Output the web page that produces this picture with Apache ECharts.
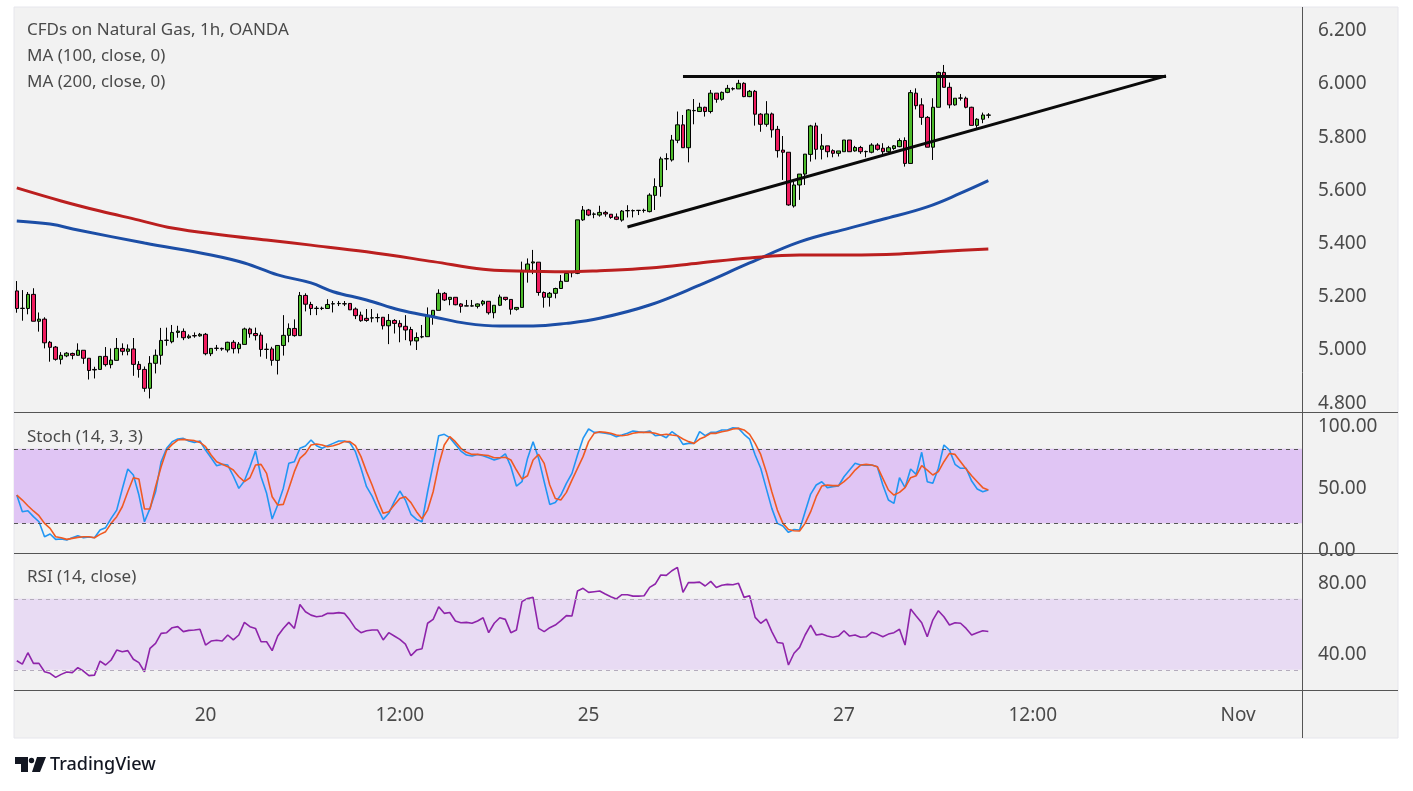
<!DOCTYPE html>
<html>
<head>
<meta charset="UTF-8">
<title>CFDs on Natural Gas, 1h</title>
<script src="https://cdn.jsdelivr.net/npm/echarts@6/dist/echarts.min.js"></script>
<style>
    html, body { margin: 0; padding: 0; background: #fff; }
    #chart { width: 1413px; height: 791px; }
</style>
</head>
<body>
<div id="chart"></div>
<script>
    // x slots (candles + empty space on the right)
    var slotCount = 232;
    var xLabelIdx = [34, 69, 103, 149, 183, 220];
    var xLabelText = ['20', '12:00', '25', '27', '12:00', 'Nov'];

    // candles
    var opens = [5.211,5.145,5.145,5.198,5.097,5.105,5.018,5.000,4.954,4.967,4.976,4.969,4.988,4.958,4.916,4.916,4.965,4.934,4.950,4.995,
        4.984,4.993,4.935,4.916,4.845,4.939,4.969,5.025,5.020,5.055,5.059,5.035,5.043,5.042,5.048,4.975,4.995,4.995,4.989,5.018,
        4.994,5.010,5.068,5.051,5.045,4.991,4.993,4.950,5.006,5.044,5.070,5.043,5.194,5.160,5.145,5.146,5.145,5.162,5.163,5.163,
        5.164,5.143,5.120,5.108,5.109,5.110,5.112,5.080,5.100,5.089,5.078,5.066,5.023,5.038,5.039,5.118,5.138,5.202,5.179,5.187,
        5.162,5.154,5.154,5.153,5.162,5.172,5.129,5.157,5.187,5.179,5.142,5.149,5.288,5.316,5.319,5.205,5.187,5.202,5.220,5.247,
        5.279,5.277,5.478,5.515,5.499,5.496,5.506,5.499,5.489,5.477,5.512,5.512,5.513,5.513,5.509,5.570,5.603,5.707,5.703,5.777,
        5.835,5.749,5.888,5.885,5.901,5.885,5.954,5.931,5.957,5.970,5.970,5.991,5.941,5.961,5.875,5.837,5.876,5.818,5.740,5.732,
        5.530,5.609,5.650,5.724,5.831,5.743,5.756,5.738,5.728,5.734,5.778,5.737,5.750,5.734,5.732,5.759,5.747,5.734,5.746,5.753,
        5.776,5.690,5.954,5.910,5.863,5.751,5.901,6.032,5.976,5.910,5.935,5.935,5.901,5.833,5.856,5.871];
    var closes = [5.145,5.146,5.198,5.097,5.105,5.016,4.999,4.954,4.969,4.977,4.969,4.988,4.958,4.912,4.914,4.965,4.934,4.951,4.995,4.984,
        4.993,4.935,4.916,4.845,4.939,4.969,5.025,5.026,5.055,5.060,5.035,5.041,5.042,5.048,4.975,4.995,4.996,4.993,5.018,4.994,
        5.011,5.068,5.050,5.043,4.991,4.992,4.950,5.006,5.044,5.070,5.043,5.194,5.161,5.145,5.146,5.145,5.160,5.163,5.164,5.162,
        5.140,5.118,5.099,5.100,5.110,5.111,5.080,5.100,5.089,5.076,5.064,5.023,5.036,5.039,5.118,5.138,5.202,5.177,5.187,5.159,
        5.153,5.155,5.155,5.162,5.172,5.129,5.157,5.188,5.179,5.142,5.149,5.288,5.312,5.320,5.205,5.187,5.202,5.220,5.247,5.277,
        5.280,5.478,5.515,5.496,5.500,5.506,5.500,5.487,5.480,5.511,5.513,5.513,5.514,5.514,5.571,5.603,5.707,5.708,5.778,5.835,
        5.749,5.891,5.889,5.901,5.885,5.954,5.931,5.957,5.972,5.971,5.991,5.941,5.961,5.875,5.837,5.876,5.816,5.738,5.732,5.534,
        5.609,5.650,5.725,5.831,5.743,5.756,5.734,5.728,5.737,5.778,5.734,5.750,5.734,5.735,5.759,5.743,5.734,5.749,5.756,5.776,
        5.690,5.956,5.907,5.863,5.751,5.901,6.032,5.976,5.910,5.935,5.936,5.901,5.833,5.856,5.872,5.872];
    var highs = [5.248,5.214,5.207,5.221,5.130,5.112,5.023,5.004,4.981,4.981,4.979,5.014,4.988,4.958,4.926,4.965,5.000,4.995,5.034,5.014,
        5.010,5.034,4.947,4.927,4.966,4.991,5.072,5.073,5.083,5.080,5.070,5.048,5.055,5.053,5.053,4.995,5.008,4.998,5.020,5.026,
        5.019,5.073,5.073,5.073,5.055,5.014,5.001,5.006,5.120,5.089,5.104,5.207,5.202,5.170,5.154,5.152,5.180,5.173,5.173,5.173,
        5.164,5.149,5.133,5.143,5.143,5.126,5.112,5.124,5.105,5.101,5.120,5.076,5.055,5.083,5.149,5.138,5.217,5.207,5.187,5.187,
        5.165,5.177,5.177,5.164,5.177,5.172,5.157,5.197,5.187,5.179,5.149,5.321,5.333,5.365,5.319,5.209,5.207,5.223,5.271,5.277,
        5.286,5.478,5.530,5.519,5.506,5.531,5.512,5.500,5.502,5.515,5.533,5.517,5.515,5.520,5.578,5.634,5.715,5.728,5.797,5.885,
        5.872,5.894,5.932,5.918,5.903,5.966,5.954,5.960,5.985,5.976,6.004,5.995,5.966,5.966,5.879,5.924,5.881,5.831,5.793,5.732,
        5.621,5.650,5.725,5.835,5.843,5.801,5.756,5.743,5.737,5.778,5.778,5.756,5.756,5.738,5.766,5.766,5.766,5.756,5.759,5.784,
        5.788,5.966,5.972,5.935,5.868,5.935,6.035,6.060,5.994,5.935,5.951,5.941,5.903,5.860,5.881,5.879];
    var lows = [5.129,5.099,5.123,5.097,5.058,4.995,4.945,4.949,4.935,4.962,4.954,4.968,4.937,4.878,4.882,4.916,4.927,4.920,4.950,4.969,
        4.969,4.892,4.885,4.832,4.807,4.901,4.934,5.005,5.014,5.035,5.026,5.031,5.035,5.039,4.969,4.966,4.986,4.986,4.980,4.976,
        4.976,5.010,5.035,5.025,4.964,4.956,4.930,4.897,4.968,5.018,5.039,5.043,5.134,5.120,5.120,5.139,5.145,5.130,5.154,5.154,
        5.139,5.105,5.095,5.095,5.093,5.093,5.066,5.011,5.051,5.018,5.026,5.006,4.989,5.033,5.039,5.084,5.138,5.173,5.157,5.157,
        5.129,5.154,5.152,5.145,5.155,5.122,5.108,5.154,5.174,5.122,5.137,5.149,5.242,5.274,5.193,5.148,5.152,5.183,5.220,5.247,
        5.262,5.274,5.474,5.492,5.484,5.490,5.490,5.482,5.477,5.471,5.487,5.487,5.496,5.505,5.506,5.515,5.565,5.665,5.697,5.766,
        5.749,5.694,5.837,5.885,5.866,5.878,5.918,5.926,5.954,5.964,5.970,5.939,5.939,5.832,5.809,5.828,5.787,5.712,5.628,5.531,
        5.524,5.553,5.609,5.697,5.705,5.705,5.713,5.713,5.716,5.734,5.734,5.734,5.726,5.713,5.728,5.738,5.718,5.728,5.741,5.751,
        5.678,5.690,5.893,5.835,5.751,5.703,5.901,5.976,5.897,5.907,5.926,5.897,5.833,5.824,5.841,5.860];

    // moving averages, [slot, price] read at checkpoints
    var ma100 = [[0,5.474],[6,5.462],[11,5.440],[23,5.391],[35,5.346],[41,5.316],[47,5.271],[53,5.241],[57,5.208],[63,5.177],
        [69,5.139],[75,5.114],[81,5.089],[87,5.079],[93,5.079],[99,5.089],[105,5.108],[114,5.158],[123,5.233],[132,5.316],
        [141,5.395],[150,5.447],[156,5.480],[164,5.527],[170,5.578],[175,5.625]];
    var ma200 = [[0,5.598],[8,5.549],[15,5.511],[22,5.477],[28,5.447],[37,5.421],[45,5.402],[53,5.383],[63,5.358],[75,5.321],
        [84,5.292],[90,5.286],[99,5.283],[105,5.287],[114,5.297],[123,5.316],[132,5.335],[141,5.346],[150,5.346],[159,5.350],
        [168,5.361],[175,5.368]];

    // hand-drawn trend lines
    var lineTop = [[120, 6.017], [207, 6.017]];
    var lineRise = [[110, 5.451], [207, 6.019]];

    var stochK = [42.7,29.3,30.1,25.3,21.2,9.1,11.3,7.0,7.3,6.5,8.3,10.0,8.3,8.9,8.3,14.5,16.4,23.9,30.6,47.6,
        63.7,58.9,42.7,21.2,32.0,45.4,69.6,80.4,85.8,87.9,88.4,86.3,85.2,86.3,79.0,72.8,66.4,67.5,66.9,58.1,
        48.1,54.0,65.6,78.5,57.5,44.1,23.4,34.7,48.1,68.3,69.6,80.4,82.3,87.1,82.5,80.4,82.5,84.4,86.3,86.3,
        84.9,77.7,64.3,49.5,41.9,32.0,23.1,28.0,37.4,46.0,38.7,27.2,23.1,21.2,45.4,67.5,90.6,91.7,89.0,83.6,
        78.2,75.0,74.2,75.5,74.5,72.8,71.0,72.5,76.0,65.6,50.0,53.5,72.3,85.8,72.3,53.5,35.2,36.8,42.7,52.2,
        60.2,75.0,88.4,96.0,93.3,93.3,92.5,91.7,89.8,91.1,92.5,94.4,93.8,93.3,94.4,90.6,91.1,89.0,93.8,90.6,
        83.6,84.4,84.4,93.8,90.6,93.3,93.3,95.2,95.2,97.0,96.5,91.7,87.9,75.0,64.3,48.1,32.0,19.9,17.7,12.6,
        15.0,14.5,29.3,43.5,50.8,53.5,48.7,49.5,50.0,57.5,62.9,68.3,66.9,66.9,66.9,65.6,50.8,38.7,36.0,56.7,
        48.7,63.7,59.4,77.2,53.5,52.2,64.3,83.1,79.0,67.5,64.3,64.3,54.0,47.6,45.4,46.8];
    var stochD = [42.7,38.7,34.1,29.9,26.1,19.9,15.9,9.1,8.3,7.0,7.8,8.6,9.1,9.1,8.3,11.0,13.2,19.9,25.3,33.3,
        45.4,56.7,55.6,31.5,31.5,49.5,65.6,79.0,83.6,87.1,87.6,87.1,86.6,85.2,81.7,75.0,69.6,67.5,65.6,62.9,
        57.5,53.5,56.7,66.9,67.5,60.2,41.4,34.7,35.2,48.1,61.6,72.3,76.3,83.1,83.9,83.1,81.7,82.5,83.9,85.8,
        85.8,82.5,73.7,61.6,50.8,38.7,28.0,29.3,34.7,40.0,41.4,36.6,29.3,23.4,30.6,45.4,66.9,83.1,89.8,85.8,
        80.4,77.2,75.5,75.5,75.0,74.5,72.8,72.8,73.2,71.0,62.9,55.6,58.3,71.0,75.5,68.3,50.8,40.0,38.7,44.9,
        54.8,64.3,73.7,85.8,92.5,93.8,93.3,92.5,91.1,90.6,91.1,92.5,93.3,93.3,93.3,92.5,91.1,91.7,91.1,90.6,
        87.9,85.8,84.4,87.9,89.8,92.5,92.5,93.8,94.6,96.0,96.5,95.2,91.7,84.4,75.5,61.6,45.4,30.6,19.9,15.0,
        14.0,13.7,19.9,29.3,41.4,50.0,50.8,50.3,50.3,53.5,57.5,62.9,66.9,67.5,66.9,65.6,56.2,46.8,42.7,44.9,
        48.7,56.7,58.3,66.4,62.9,58.9,61.6,69.6,76.3,75.5,69.6,63.7,58.3,53.5,48.7,46.8];
    var rsi = [35.1,33.2,39.6,33.6,33.6,28.9,28.0,25.7,27.4,28.7,28.4,31.2,29.3,26.7,27.0,34.9,32.7,35.5,41.1,40.2,
        40.8,35.9,34.0,28.9,42.1,44.9,50.5,50.9,53.7,54.3,51.5,52.2,52.4,52.8,43.9,46.2,46.6,46.2,49.6,46.8,
        49.6,56.7,54.3,53.3,45.8,45.8,40.8,49.0,53.3,56.7,53.3,66.8,62.7,60.8,59.9,60.3,61.8,61.8,62.2,61.8,
        58.0,53.3,50.9,52.0,52.4,52.4,46.8,50.9,49.0,47.1,44.5,37.9,41.1,41.9,56.2,58.4,65.5,61.8,62.3,57.5,
        56.5,56.7,56.2,57.5,59.3,50.9,56.2,59.3,58.4,50.9,52.4,68.4,70.2,70.8,53.3,51.5,53.7,55.2,57.7,60.5,
        60.3,74.4,75.9,73.6,74.0,74.4,72.7,71.2,69.9,72.3,72.3,71.5,71.5,71.7,76.4,78.3,83.4,83.2,85.8,87.7,
        73.6,79.2,79.1,79.4,77.2,79.8,76.4,77.6,78.1,77.9,78.7,70.8,71.7,59.5,56.2,58.6,51.5,45.4,44.9,32.7,
        39.3,42.6,49.6,55.2,49.6,50.1,49.0,48.3,49.0,52.0,49.0,49.6,48.3,48.6,51.1,50.1,48.6,50.1,50.9,52.8,
        43.9,64.2,60.3,56.5,48.6,58.0,63.3,59.9,55.2,56.5,56.2,53.3,49.6,50.9,52.0,51.6];

    var priceTicks = [4.8, 5.0, 5.2, 5.4, 5.6, 5.8, 6.0, 6.2];
    var stochTicks = [0, 50, 100];
    var rsiTicks = [40, 80];

    var FONT = '"Noto Sans", sans-serif';
    var TXT = '#4a4a4a';

    var categories = [];
    for (var i = 0; i < slotCount; i++) categories.push(String(i));
    var candleData = opens.map(function (o, i) {
        return [o, closes[i], lows[i], highs[i]];
    });

    function xAxisFor(gridIndex, showLabel) {
        return {
            type: 'category', gridIndex: gridIndex, data: categories, boundaryGap: true,
            axisLine: { show: false }, axisTick: { show: false }, splitLine: { show: false },
            axisLabel: {
                show: showLabel, margin: 16, fontSize: 19, color: TXT, fontFamily: FONT,
                interval: function (idx) { return xLabelIdx.indexOf(idx) >= 0; },
                formatter: function (v, idx) {
                    var k = xLabelIdx.indexOf(idx);
                    return k >= 0 ? xLabelText[k] : '';
                }
            }
        };
    }
    function yAxisFor(gridIndex, min, max, ticks, digits) {
        return {
            type: 'value', gridIndex: gridIndex, position: 'right', min: min, max: max, scale: true,
            axisLine: { show: false }, axisTick: { show: false }, splitLine: { show: false },
            axisLabel: {
                customValues: ticks, margin: 16, fontSize: 19, color: TXT, fontFamily: FONT,
                // nudge the labels a few pixels below the tick, as in the picture
                verticalAlign: 'top', lineHeight: 6,
                formatter: function (v) { return Number(v).toFixed(digits); }
            }
        };
    }

    var myChart = echarts.init(document.getElementById('chart'));
    var option = {
        animation: false,
        backgroundColor: '#fff',
        grid: [
            { left: 14, top: 8, width: 1288, height: 404 },
            { left: 14, top: 412, width: 1288, height: 141 },
            { left: 14, top: 553, width: 1288, height: 137 }
        ],
        xAxis: [xAxisFor(0, false), xAxisFor(1, false), xAxisFor(2, true)],
        yAxis: [
            yAxisFor(0, 4.756, 6.274, priceTicks, 3),
            yAxisFor(1, -4, 109.7, stochTicks, 2),
            yAxisFor(2, 18.6, 95.8, rsiTicks, 2)
        ],
        graphic: [
            // panel background and separators
            { type: 'rect', z: -10, silent: true, shape: { x: 14, y: 7, width: 1384, height: 731 },
              style: { fill: '#f2f2f2', stroke: '#e6e6ec', lineWidth: 1 } },
            { type: 'line', z: 10, silent: true, shape: { x1: 14, y1: 412.5, x2: 1398, y2: 412.5 }, style: { stroke: '#555', lineWidth: 1 } },
            { type: 'line', z: 10, silent: true, shape: { x1: 14, y1: 553.5, x2: 1398, y2: 553.5 }, style: { stroke: '#555', lineWidth: 1 } },
            { type: 'line', z: 10, silent: true, shape: { x1: 14, y1: 690.5, x2: 1398, y2: 690.5 }, style: { stroke: '#555', lineWidth: 1 } },
            { type: 'line', z: 10, silent: true, shape: { x1: 1302.5, y1: 7, x2: 1302.5, y2: 738 }, style: { stroke: '#555', lineWidth: 1 } },
            // pane captions
            { type: 'text', z: 20, left: 27, top: 22, style: { text: 'CFDs on Natural Gas, 1h, OANDA', fontSize: 17, fill: TXT, fontFamily: FONT } },
            { type: 'text', z: 20, left: 27, top: 48, style: { text: 'MA (100, close, 0)', fontSize: 17, fill: TXT, fontFamily: FONT } },
            { type: 'text', z: 20, left: 27, top: 74, style: { text: 'MA (200, close, 0)', fontSize: 17, fill: TXT, fontFamily: FONT } },
            { type: 'text', z: 20, left: 27, top: 429, style: { text: 'Stoch (14, 3, 3)', fontSize: 17, fill: TXT, fontFamily: FONT } },
            { type: 'text', z: 20, left: 27, top: 569, style: { text: 'RSI (14, close)', fontSize: 17, fill: TXT, fontFamily: FONT } },
            // TradingView footer
            { type: 'polygon', silent: true, shape: { points: [[15, 757], [28, 757], [28, 772], [21, 772], [21, 764], [15, 764]] }, style: { fill: '#131722' } },
            { type: 'circle', silent: true, shape: { cx: 31.5, cy: 760.5, r: 2.7 }, style: { fill: '#131722' } },
            { type: 'polygon', silent: true, shape: { points: [[37, 757], [46, 757], [40, 772], [32, 772]] }, style: { fill: '#131722' } },
            { type: 'text', left: 50, top: 756, style: { text: 'TradingView', fontSize: 18, fontWeight: 500, fill: '#131722', fontFamily: FONT } }
        ],
        series: [
            {
                name: 'price', type: 'candlestick', xAxisIndex: 0, yAxisIndex: 0,
                barWidth: 4, data: candleData,
                itemStyle: { color: '#4cbb2a', color0: '#ee1c5e', borderColor: '#000', borderColor0: '#000', borderWidth: 1 }
            },
            {
                name: 'MA 100', type: 'line', xAxisIndex: 0, yAxisIndex: 0, data: ma100, smooth: 0.4,
                showSymbol: false, lineStyle: { color: '#1c4ea6', width: 3 }, z: 3
            },
            {
                name: 'MA 200', type: 'line', xAxisIndex: 0, yAxisIndex: 0, data: ma200, smooth: 0.4,
                showSymbol: false, lineStyle: { color: '#bb1f1f', width: 3 }, z: 3
            },
            {
                name: 'top', type: 'line', xAxisIndex: 0, yAxisIndex: 0, data: lineTop,
                showSymbol: false, lineStyle: { color: '#0a0a0a', width: 3 }, z: 4
            },
            {
                name: 'rise', type: 'line', xAxisIndex: 0, yAxisIndex: 0, data: lineRise,
                showSymbol: false, lineStyle: { color: '#0a0a0a', width: 3 }, z: 4
            },
            {
                name: '%K', type: 'line', xAxisIndex: 1, yAxisIndex: 1, data: stochK,
                showSymbol: false, lineStyle: { color: '#2196f3', width: 1.6 },
                markArea: { silent: true, itemStyle: { color: '#e0c5f4' }, data: [[{ yAxis: 20 }, { yAxis: 80 }]] },
                markLine: {
                    silent: true, symbol: 'none', label: { show: false },
                    lineStyle: { color: '#555', type: [4, 4], width: 1 },
                    data: [{ yAxis: 20 }, { yAxis: 80 }]
                }
            },
            {
                name: '%D', type: 'line', xAxisIndex: 1, yAxisIndex: 1, data: stochD,
                showSymbol: false, lineStyle: { color: '#f05a22', width: 1.6 }
            },
            {
                name: 'RSI', type: 'line', xAxisIndex: 2, yAxisIndex: 2, data: rsi,
                showSymbol: false, lineStyle: { color: '#8e24aa', width: 1.6 },
                markArea: { silent: true, itemStyle: { color: '#e8dbf3' }, data: [[{ yAxis: 30 }, { yAxis: 70 }]] },
                markLine: {
                    silent: true, symbol: 'none', label: { show: false },
                    lineStyle: { color: '#b4acbc', type: [4, 4], width: 1 },
                    data: [{ yAxis: 30 }, { yAxis: 70 }]
                }
            }
        ]
    };
    myChart.setOption(option);
</script>
</body>
</html>
